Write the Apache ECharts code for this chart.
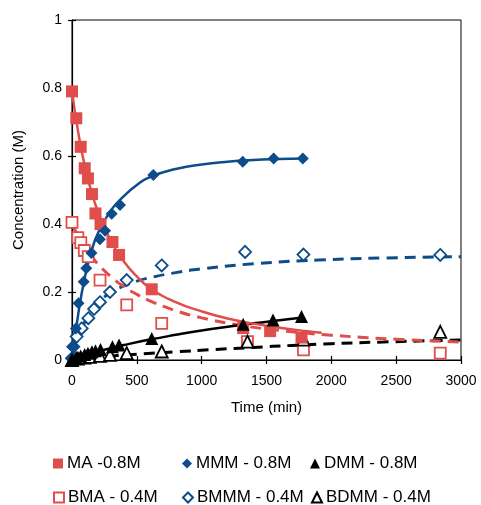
<!DOCTYPE html>
<html>
<head>
<meta charset="utf-8">
<script src="https://cdn.jsdelivr.net/npm/echarts@6/dist/echarts.min.js"></script>
<style>
  html, body { margin: 0; padding: 0; background: #fff; }
  #chart { width: 481px; height: 505px; }
</style>
</head>
<body>
<div id="chart"></div>
<script>
// Measured concentrations (M) against time (min)
const maTime = [0, 33, 67, 98, 123, 154, 181, 220, 312, 363, 615, 1320, 1528, 1770];
const maConc = [0.79, 0.711, 0.627, 0.564, 0.534, 0.488, 0.431, 0.40, 0.347, 0.309, 0.208, 0.094, 0.085, 0.066];

const mmmTime = [0, 10, 30, 50, 90, 110, 150, 215, 255, 306, 370, 627, 1317, 1555, 1780];
const mmmConc = [0.005, 0.04, 0.093, 0.167, 0.23, 0.27, 0.315, 0.355, 0.38, 0.43, 0.456, 0.544, 0.583, 0.593, 0.593];

const dmmTime = [0, 33, 67, 98, 123, 154, 181, 220, 312, 363, 615, 1320, 1550, 1770];
const dmmConc = [0.002, 0.007, 0.012, 0.016, 0.02, 0.024, 0.027, 0.031, 0.039, 0.044, 0.063, 0.105, 0.118, 0.128];

const bmaTime = [0, 45, 68, 95, 125, 216, 422, 692, 1353, 1785, 2840];
const bmaConc = [0.405, 0.36, 0.345, 0.322, 0.304, 0.235, 0.162, 0.108, 0.054, 0.03, 0.02];

const bmmmTime = [0, 10, 36, 75, 126, 170, 216, 293, 422, 692, 1335, 1785, 2840];
const bmmmConc = [0.005, 0.039, 0.069, 0.093, 0.123, 0.15, 0.17, 0.2, 0.235, 0.278, 0.318, 0.31, 0.309];

const bdmmTime = [0, 45, 95, 137, 216, 293, 422, 692, 1353, 1785, 2840];
const bdmmConc = [0, 0.004, 0.007, 0.009, 0.012, 0.015, 0.02, 0.025, 0.054, 0.06, 0.083];

// Kinetic model curves
const maFitT = [0, 50, 100, 150, 200, 300, 400, 500, 600, 800, 1000, 1200, 1400, 1600, 1800, 1925];
const maFitC = [0.79, 0.665, 0.568, 0.495, 0.437, 0.35, 0.29, 0.246, 0.212, 0.17, 0.143, 0.122, 0.107, 0.095, 0.085, 0.08];

const mmmFitT = [0, 50, 100, 150, 200, 300, 400, 500, 600, 800, 1000, 1200, 1400, 1600, 1780];
const mmmFitC = [0, 0.14, 0.245, 0.32, 0.373, 0.44, 0.482, 0.515, 0.538, 0.562, 0.575, 0.583, 0.588, 0.591, 0.593];

const dmmFitT = [0, 100, 200, 300, 400, 600, 800, 1000, 1200, 1400, 1600, 1780];
const dmmFitC = [0, 0.013, 0.025, 0.035, 0.044, 0.06, 0.074, 0.087, 0.098, 0.108, 0.117, 0.125];

const bmaFitT = [0, 50, 100, 150, 200, 300, 400, 500, 600, 800, 1000, 1300, 1600, 2000, 2500, 3000];
const bmaFitC = [0.4, 0.363, 0.332, 0.305, 0.282, 0.245, 0.216, 0.193, 0.174, 0.145, 0.124, 0.102, 0.087, 0.073, 0.061, 0.053];

const bmmmFitT = [0, 50, 100, 150, 200, 300, 400, 500, 600, 800, 1000, 1400, 1900, 2400, 3000];
const bmmmFitC = [0, 0.068, 0.113, 0.145, 0.168, 0.199, 0.218, 0.232, 0.242, 0.257, 0.268, 0.283, 0.294, 0.3, 0.304];

const bdmmFitT = [0, 200, 500, 800, 1100, 1400, 1700, 2000, 2400, 3000];
const bdmmFitC = [0, 0.008, 0.017, 0.024, 0.031, 0.037, 0.043, 0.048, 0.053, 0.059];

const xTicks = [0, 500, 1000, 1500, 2000, 2500, 3000];
const yTicks = [0, 0.2, 0.4, 0.6, 0.8, 1];

const RED = '#E04E4B';
const BLUE = '#0D4C8B';
const BLACK = '#000000';
const FONT = '"Liberation Sans", Arial, sans-serif';

function pairs(t, c) { return t.map((v, i) => [v, c[i]]); }

function markers(name, t, c, symbol, color, open, size) {
  return {
    name, type: 'scatter', data: pairs(t, c), symbol, symbolSize: size,
    itemStyle: open
      ? { color: '#ffffff', borderColor: color, borderWidth: 1.8, opacity: 1 }
      : { color: color, opacity: 1 },
    z: open ? 4 : 5,
    silent: true
  };
}

function curve(t, c, color, dashed) {
  return {
    type: 'line', data: pairs(t, c), showSymbol: false, symbol: 'none',
    smooth: 0.5, silent: true,
    lineStyle: dashed
      ? { color, width: 3, type: [11, 7] }
      : { color, width: 2.5 },
    z: 3
  };
}

const legendDefs = [
  { name: 'MA -0.8M', left: 53, top: 455 },
  { name: 'MMM - 0.8M', left: 182, top: 455 },
  { name: 'DMM - 0.8M', left: 310, top: 455 },
  { name: 'BMA - 0.4M', left: 53, top: 489 },
  { name: 'BMMM - 0.4M', left: 182, top: 489 },
  { name: 'BDMM - 0.4M', left: 311, top: 489 }
];

const chart = echarts.init(document.getElementById('chart'), null, { renderer: 'canvas' });

chart.setOption({
  animation: false,
  backgroundColor: '#ffffff',
  grid: { left: 72, right: 20, top: 20, bottom: 145, show: true, borderColor: '#000', borderWidth: 1, backgroundColor: 'transparent' },
  legend: legendDefs.map(d => ({
    data: [d.name], left: d.left, top: d.top, padding: 0,
    itemWidth: 10, itemHeight: 10, itemGap: 0,
    textStyle: { fontFamily: FONT, fontSize: 17, color: '#000', padding: [0, 0, 0, -1] },
    selectedMode: false
  })),
  xAxis: [{
    type: 'value', min: 0, max: 3000, interval: 500,
    name: 'Time (min)', nameLocation: 'middle', nameGap: 40,
    nameTextStyle: { fontFamily: FONT, fontSize: 15, color: '#000' },
    axisLine: { show: true, lineStyle: { color: '#000', width: 1.2 } },
    axisTick: { show: true, length: 4, lineStyle: { color: '#000', width: 1.2 } },
    axisLabel: { fontFamily: FONT, fontSize: 14, color: '#000', margin: 14,
      formatter: v => xTicks.includes(v) ? String(v) : '' },
    splitLine: { show: false }
  }, {
    type: 'value', min: 0, max: 3000, interval: 500, position: 'bottom',
    axisLine: { show: false },
    axisTick: { show: true, inside: true, length: 4, lineStyle: { color: '#000', width: 1.2 } },
    axisLabel: { show: false }, splitLine: { show: false }
  }],
  yAxis: [{
    type: 'value', min: 0, max: 1, interval: 0.2,
    name: 'Concentration (M)', nameLocation: 'middle', nameGap: 46, nameRotate: 90,
    nameTextStyle: { fontFamily: FONT, fontSize: 15, color: '#000' },
    axisLine: { show: true, lineStyle: { color: '#000', width: 1.2 } },
    axisTick: { show: true, length: 4, lineStyle: { color: '#000', width: 1.2 } },
    axisLabel: { fontFamily: FONT, fontSize: 14, color: '#000', margin: 10,
      formatter: v => { const m = yTicks.find(t => Math.abs(t - v) < 1e-9); return m === undefined ? '' : String(m); } },
    splitLine: { show: false }
  }, {
    type: 'value', min: 0, max: 1, interval: 0.2, position: 'left',
    axisLine: { show: false },
    axisTick: { show: true, inside: true, length: 4, lineStyle: { color: '#000', width: 1.2 } },
    axisLabel: { show: false }, splitLine: { show: false }
  }],
  series: [
    curve(bdmmFitT, bdmmFitC, BLACK, true),
    curve(bmmmFitT, bmmmFitC, BLUE, true),
    curve(bmaFitT, bmaFitC, RED, true),
    curve(dmmFitT, dmmFitC, BLACK, false),
    curve(mmmFitT, mmmFitC, BLUE, false),
    curve(maFitT, maFitC, RED, false),
    markers('BMA - 0.4M', bmaTime, bmaConc, 'rect', RED, true, 11),
    markers('BMMM - 0.4M', bmmmTime, bmmmConc, 'diamond', BLUE, true, 12),
    markers('BDMM - 0.4M', bdmmTime, bdmmConc, 'triangle', BLACK, true, 12),
    markers('MA -0.8M', maTime, maConc, 'rect', RED, false, 12),
    markers('MMM - 0.8M', mmmTime, mmmConc, 'diamond', BLUE, false, 12),
    markers('DMM - 0.8M', dmmTime, dmmConc, 'triangle', BLACK, false, 13)
  ]
});
</script>
</body>
</html>
